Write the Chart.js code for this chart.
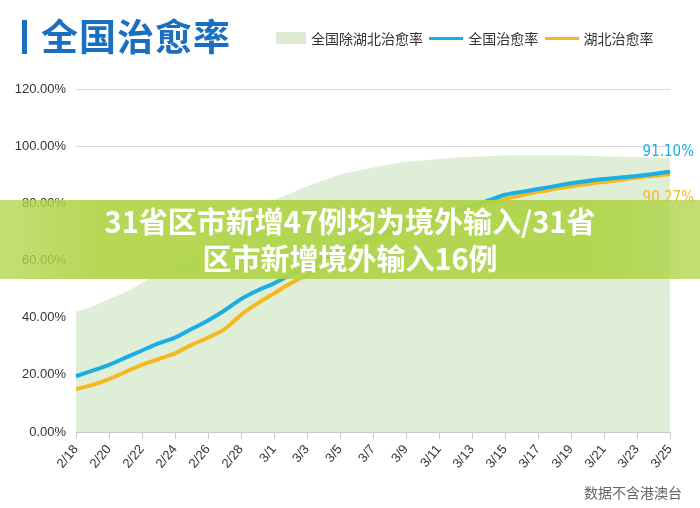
<!DOCTYPE html>
<html><head><meta charset="utf-8">
<script src="https://cdn.jsdelivr.net/npm/chart.js@4/dist/chart.umd.min.js"></script>
<style>
body{margin:0;width:700px;height:508px;overflow:hidden;background:#fff;font-family:"Noto Sans CJK SC",sans-serif;position:relative}
#wrap{position:absolute;left:0;top:0;width:700px;height:508px}
#title{position:absolute;left:22px;top:8px;font-size:37px;font-weight:bold;color:#1a6fc0;letter-spacing:1px}
#title span{display:inline-block;width:5px;height:34px;background:#1a6fc0;margin-right:14px;vertical-align:-3px}
#legend{position:absolute;left:276px;top:28px;font-size:14px;color:#333;display:flex;align-items:center}
#legend i{display:inline-block;margin-right:5px}
#banner{position:absolute;left:0;top:200px;width:700px;height:77px;background:linear-gradient(90deg,rgba(175,212,70,0.75),rgba(175,212,70,0.92) 15%,rgba(175,212,70,0.92) 85%,rgba(175,212,70,0.75));color:#fff;font-weight:bold;font-size:29px;text-align:center;line-height:37px;padding-top:2px}
#note{position:absolute;right:18px;top:482px;font-size:14px;color:#666}
</style></head><body>
<div id="wrap"><canvas id="c" width="700" height="508"></canvas></div>
<div id="title"><span></span>全国治愈率</div>
<div id="legend"><i style="width:30px;height:12px;background:#dcebd2"></i>全国除湖北治愈率&nbsp;&nbsp;<i style="width:34px;height:3px;background:#1aaee5"></i>全国治愈率&nbsp;&nbsp;<i style="width:34px;height:3px;background:#f5b820"></i>湖北治愈率</div>
<div id="banner">31省区市新增47例均为境外输入/31省<br>区市新增境外输入16例</div>
<div id="note">数据不含港澳台</div>
<script>
const dates=["2/18","2/19","2/20","2/21","2/22","2/23","2/24","2/25","2/26","2/27","2/28","2/29","3/1","3/2","3/3","3/4","3/5","3/6","3/7","3/8","3/9","3/10","3/11","3/12","3/13","3/14","3/15","3/16","3/17","3/18","3/19","3/20","3/21","3/22","3/23","3/24","3/25"];
const national=[19.5,21.5,23.5,26,28.5,31,33,36,39,42.5,46.5,49.5,52,55,58,61,63.5,66,68.5,70.5,72.5,74.5,76,77.5,79,81,83,84,85,86,87,87.8,88.5,89,89.6,90.3,91.1];
const hubei=[15,16.5,18.5,21,23.5,25.5,27.5,30.5,33,36,41,45,48.5,52,55,58,61,64,66.5,68.5,70.5,72.5,74.5,76.5,78,80,81.5,82.8,84,85,86,86.8,87.5,88.2,89,89.6,90.27];
const exHubei=[42,44,46.5,49,52,55.5,59,62.5,66,70,74,77.5,81,83.5,86,88,90,91.3,92.5,93.6,94.5,95,95.5,96,96.3,96.5,96.7,96.8,96.8,96.8,96.7,96.6,96.5,96.3,96.2,96,95.8];
const yTicks=[0,20,40,60,80,100,120];
const endLabels={
 id:'endLabels',
 afterDatasetsDraw(ch){
  const c=ch.ctx,y=ch.scales.y;
  c.save();c.font='15px "Liberation Sans Narrow","DejaVu Sans Condensed",sans-serif';c.textAlign='right';
  c.fillStyle='#1aaee5';c.fillText(national[national.length-1].toFixed(2)+'%',694,y.getPixelForValue(96.5));
  c.fillStyle='#f5b820';c.fillText(hubei[hubei.length-1].toFixed(2)+'%',694,y.getPixelForValue(80.3));
  c.restore();
 }};
new Chart(document.getElementById('c'),{
 type:'line',
 data:{labels:dates,datasets:[
  {label:'全国治愈率',data:national,borderColor:'#1aaee5',borderWidth:4,pointRadius:0,tension:0.3,fill:false},
  {label:'湖北治愈率',data:hubei,borderColor:'#f5b820',borderWidth:4,pointRadius:0,tension:0.3,fill:false},
  {label:'全国除湖北治愈率',data:exHubei,borderWidth:0,borderColor:'transparent',backgroundColor:'#dfeed6',pointRadius:0,tension:0.4,fill:'origin'}
 ]},
 plugins:[endLabels],
 options:{responsive:false,animation:false,
  layout:{padding:{left:4,right:30,top:89,bottom:0}},
  plugins:{legend:{display:false},tooltip:{enabled:false}},
  scales:{
   x:{offset:false,
    grid:{drawOnChartArea:false,tickLength:7,tickColor:ctx=>ctx.index%2?'transparent':'#c8c8c8'},
    border:{color:'#c8c8c8'},
    afterFit:s=>{s.height=76},
    ticks:{autoSkip:false,maxRotation:50,minRotation:50,color:'#333',font:{size:13,family:'"Liberation Sans Narrow",sans-serif'},
     callback:(v,i)=>i%2?'':dates[i]}},
   y:{min:0,max:120,
    afterBuildTicks:s=>{s.ticks=yTicks.map(v=>({value:v}))},
    afterFit:s=>{s.width=72},
    grid:{color:'#d8d8d8',drawTicks:false},border:{display:false},
    ticks:{padding:10,color:'#333',font:{size:13,family:'"Liberation Sans Narrow",sans-serif'},callback:v=>v.toFixed(2)+'%'}}
  }}
});
</script></body></html>
